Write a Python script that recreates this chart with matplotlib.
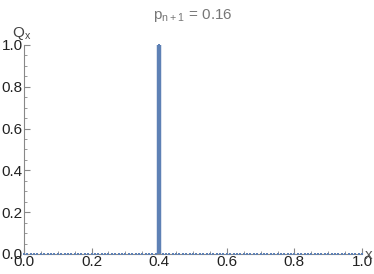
import numpy as np
import matplotlib
matplotlib.use("Agg")
import matplotlib.pyplot as plt

# distribution Q_x on a grid of x values (0.00 .. 1.00), all mass at x = 0.4
x_grid = [i / 100 for i in range(101)]
spike_x = 0.4
spike_q = 1.0
q_vals = [spike_q if abs(x - spike_x) < 1e-9 else 0.0 for x in x_grid]
x_ticks = [0.0, 0.2, 0.4, 0.6, 0.8, 1.0]
y_ticks = [0.0, 0.2, 0.4, 0.6, 0.8, 1.0]
title = "p$_{\\mathregular{n+1}}$ = 0.16"

blue = "#5e81b5"
gray = "#888888"

fig = plt.figure(figsize=(3.74, 2.74), dpi=100)
ax = fig.add_axes([0.064, 0.073, 0.904, 0.763])

ax.vlines(x_grid, 0, q_vals, color=blue, linewidth=3.2)
ax.plot(x_grid, q_vals, linestyle="none", marker="s", markersize=2.0,
        markeredgewidth=0, color=blue, clip_on=False, zorder=3)

ax.set_xlim(0, 1)
ax.set_ylim(0, 1)
for s in ["top", "right"]:
    ax.spines[s].set_visible(False)
for s in ["left", "bottom"]:
    ax.spines[s].set_color(gray)
    ax.spines[s].set_linewidth(0.8)

ax.set_xticks(x_ticks)
ax.set_yticks(y_ticks)
ax.set_xticks(np.arange(0, 1.0001, 0.05), minor=True)
ax.set_yticks(np.arange(0, 1.0001, 0.05), minor=True)
ax.set_xticklabels([f"{v:.1f}" for v in x_ticks])
ax.set_yticklabels([f"{v:.1f}" for v in y_ticks])
ax.tick_params(which="both", direction="in", color=gray, labelsize=11, labelcolor="#222222")
ax.tick_params(which="major", length=4, width=0.8, pad=1)
ax.tick_params(which="minor", length=2, width=0.6)
for lbl in ax.get_xticklabels():
    lbl.set_fontfamily("Liberation Sans")
for lbl in ax.get_yticklabels():
    lbl.set_fontfamily("Liberation Sans")

fig.text(193 / 374, 1 - 15 / 274, title, ha="center", va="center",
         fontsize=11, color="#777777", family="Liberation Sans")
fig.text(22 / 374, 1 - 34 / 274, "Q$_{\\mathregular{x}}$", ha="center", va="center",
         fontsize=11, color="#444444", family="Liberation Sans")
fig.text(369 / 374, 1 - 255 / 274, "x", ha="center", va="center",
         fontsize=11, color="#555555", family="Liberation Sans")

fig.savefig("out.png", dpi=100)
